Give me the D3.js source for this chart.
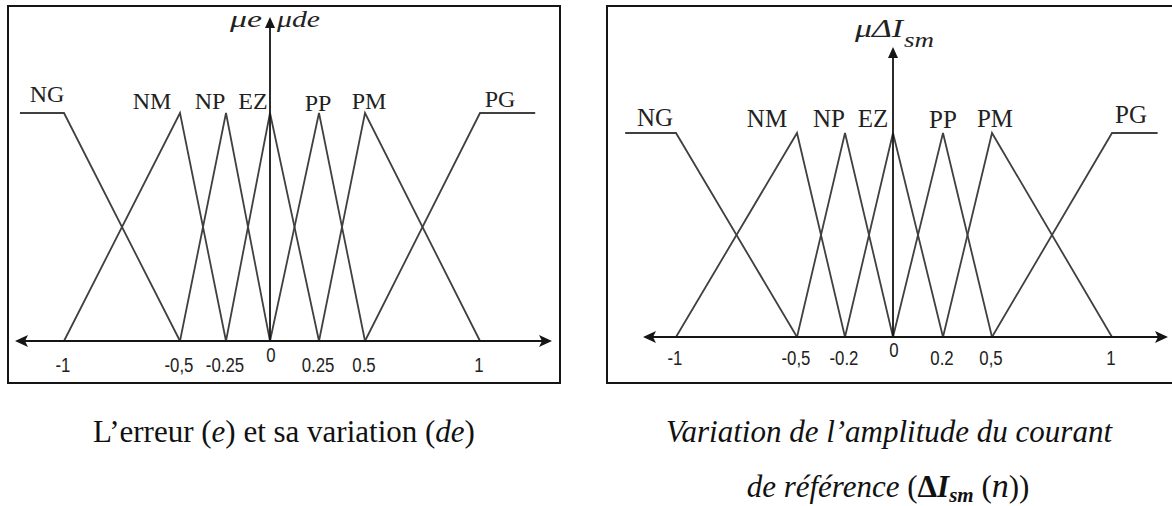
<!DOCTYPE html>
<html><head><meta charset="utf-8">
<script src="https://cdn.jsdelivr.net/npm/d3@7"></script>
<style>body{margin:0;background:#fff}svg{display:block}</style>
</head><body><svg id="c" width="1172" height="506"></svg>
<script>
// Universe of the error e and its variation de
const eTicks = [-1, -0.5, -0.25, 0, 0.25, 0.5, 1];
const eTickLabels = ["-1", "-0,5", "-0.25", "0", "0.25", "0.5", "1"];
const eNames = ["NG", "NM", "NP", "EZ", "PP", "PM", "PG"];
// trapezoids [a, b, c, d]: μ = 0 at a, 1 from b to c, 0 at d
const eSets = [
  [-1.19, -1.19, -1, -0.5],
  [-1, -0.5, -0.5, -0.25],
  [-0.5, -0.25, -0.25, 0],
  [-0.25, 0, 0, 0.25],
  [0, 0.25, 0.25, 0.5],
  [0.25, 0.5, 0.5, 1],
  [0.5, 1, 1.24, 1.24]
];

// Universe of the reference-current amplitude variation ΔIsm
const dTicks = [-1, -0.5, -0.2, 0, 0.2, 0.5, 1];
const dTickLabels = ["-1", "-0,5", "-0.2", "0", "0.2", "0,5", "1"];
const dNames = ["NG", "NM", "NP", "EZ", "PP", "PM", "PG"];
const dSets = [
  [-1.21, -1.21, -1, -0.5],
  [-1, -0.5, -0.5, -0.2],
  [-0.5, -0.2, -0.2, 0],
  [-0.2, 0, 0, 0.2],
  [0, 0.2, 0.2, 0.5],
  [0.2, 0.5, 0.5, 1],
  [0.5, 1, 1.19, 1.19]
];

const svg = d3.select("#c");
const INK = "#151515", LINE = "#404040";
const SERIF = "Liberation Serif, 'Times New Roman', serif";

const panels = [
  {
    ticks: eTicks, tickLabels: eTickLabels, names: eNames, sets: eSets,
    box: [8, 6, 560, 383], tickPx: [64, 180, 226, 270, 319, 365, 480],
    axisY: 341, topY: 113, axisEnds: [15, 552], yTip: 17,
    labelFont: 24,
    labelOff: [[-17, 102], [-28, 109], [-16, 109], [-17, 109], [-1, 111], [4, 109], [20, 107]],
    tickBase: 372, zeroBase: 362
  },
  {
    ticks: dTicks, tickLabels: dTickLabels, names: dNames, sets: dSets,
    box: [607, 6, 1174, 383], tickPx: [676, 797, 845, 893, 943, 992, 1112],
    axisY: 337, topY: 133, axisEnds: [643, 1168], yTip: 47,
    labelFont: 25,
    labelOff: [[-21, 126], [-30, 127], [-16, 127], [-20, 127], [0, 128], [3, 127], [19, 123]],
    tickBase: 365, zeroBase: 357
  }
];

function setPoints(s) {
  const [a, b, c, d] = s, p = [];
  if (a < b) p.push([a, 0]);
  p.push([b, 1]);
  if (c > b) p.push([c, 1]);
  if (d > c) p.push([d, 0]);
  return p;
}

panels.forEach(P => {
  const g = svg.append("g");
  // piecewise-linear abscissa through the tick positions
  const x = d3.scaleLinear().domain(P.ticks).range(P.tickPx);
  const y = d3.scaleLinear().domain([0, 1]).range([P.axisY, P.topY]);
  const x0 = x(0);

  // frame
  g.append("rect")
    .attr("x", P.box[0]).attr("y", P.box[1])
    .attr("width", P.box[2] - P.box[0]).attr("height", P.box[3] - P.box[1])
    .attr("fill", "none").attr("stroke", INK).attr("stroke-width", 2);

  // membership functions
  const line = d3.line().x(d => x(d[0])).y(d => y(d[1]));
  g.selectAll("path.mf").data(P.sets).join("path")
    .attr("class", "mf")
    .attr("d", d => line(setPoints(d)))
    .attr("fill", "none").attr("stroke", LINE).attr("stroke-width", 1.8);

  // set names
  g.selectAll("text.nm").data(P.names).join("text")
    .attr("class", "nm")
    .attr("x", (d, i) => {
      const s = P.sets[i];
      const ref = s[1] === s[2] ? s[1] : (i === 0 ? s[2] : s[1]);
      return x(ref) + P.labelOff[i][0];
    })
    .attr("y", (d, i) => P.labelOff[i][1])
    .attr("text-anchor", "middle")
    .attr("font-family", SERIF)
    .attr("font-size", P.labelFont)
    .attr("fill", "#222")
    .text(d => d);

  // horizontal axis with arrow heads at both ends
  const [xa, xb] = P.axisEnds, ay = P.axisY;
  g.append("line").attr("x1", xa + 6).attr("x2", xb - 6).attr("y1", ay).attr("y2", ay)
    .attr("stroke", INK).attr("stroke-width", 2);
  g.append("path").attr("d", `M${xa},${ay}L${xa + 13},${ay - 6}L${xa + 10},${ay}L${xa + 13},${ay + 6}Z`).attr("fill", INK);
  g.append("path").attr("d", `M${xb},${ay}L${xb - 13},${ay - 6}L${xb - 10},${ay}L${xb - 13},${ay + 6}Z`).attr("fill", INK);

  // vertical axis
  g.append("line").attr("x1", x0).attr("x2", x0).attr("y1", ay).attr("y2", P.yTip + 8)
    .attr("stroke", INK).attr("stroke-width", 1.8);
  g.append("path").attr("d", `M${x0},${P.yTip}L${x0 + 5},${P.yTip + 11}L${x0 - 5},${P.yTip + 11}Z`).attr("fill", INK);

  // tick labels (narrow sans)
  g.selectAll("g.tl").data(P.ticks).join("g")
    .attr("class", "tl")
    .attr("transform", d => `translate(${x(d) + (d === 0 ? 1 : -1)},${d === 0 ? P.zeroBase : P.tickBase}) scale(0.8,1)`)
    .append("text")
    .attr("text-anchor", "middle")
    .attr("font-family", "Liberation Sans, Arial, sans-serif")
    .attr("font-size", 21)
    .attr("fill", "#222")
    .text((d, i) => P.tickLabels[i]);
});

// vertical axis titles
function axisTitle(txt, x, y, size, len) {
  return svg.append("text").attr("x", x).attr("y", y)
    .attr("font-family", SERIF).attr("font-style", "italic")
    .attr("font-size", size).attr("fill", "#222")
    .attr("textLength", len).attr("lengthAdjust", "spacingAndGlyphs")
    .text(txt);
}
axisTitle("μe", 230, 27, 23, 32);
axisTitle("μde", 277, 27, 23, 43);
axisTitle("μΔI", 855, 37, 26, 48);
axisTitle("sm", 904, 47, 21, 30);

// captions
const capSize = 31;
const cap = svg.append("text").attr("x", 284).attr("y", 442).attr("text-anchor", "middle")
  .attr("font-family", SERIF).attr("font-size", capSize).attr("fill", "#111");
cap.append("tspan").text("L’erreur (");
cap.append("tspan").attr("font-style", "italic").text("e");
cap.append("tspan").text(") et sa variation (");
cap.append("tspan").attr("font-style", "italic").text("de");
cap.append("tspan").text(")");

svg.append("text").attr("x", 889).attr("y", 442).attr("text-anchor", "middle")
  .attr("font-family", SERIF).attr("font-style", "italic")
  .attr("font-size", capSize).attr("fill", "#111").text("Variation de l’amplitude du courant");

const cap2 = svg.append("text").attr("x", 888).attr("y", 497).attr("text-anchor", "middle")
  .attr("font-family", SERIF).attr("font-size", capSize).attr("fill", "#111");
cap2.append("tspan").attr("font-style", "italic").text("de référence ");
cap2.append("tspan").text("(");
cap2.append("tspan").attr("font-weight", "bold").text("Δ");
cap2.append("tspan").attr("font-weight", "bold").attr("font-style", "italic").text("I");
cap2.append("tspan").attr("font-weight", "bold").attr("font-style", "italic").attr("font-size", 21).attr("dy", 5).text("sm");
cap2.append("tspan").attr("dy", -5).text(" (");
cap2.append("tspan").attr("font-style", "italic").attr("font-size", 34).text("n");
cap2.append("tspan").text("))");
</script>
</body></html>
